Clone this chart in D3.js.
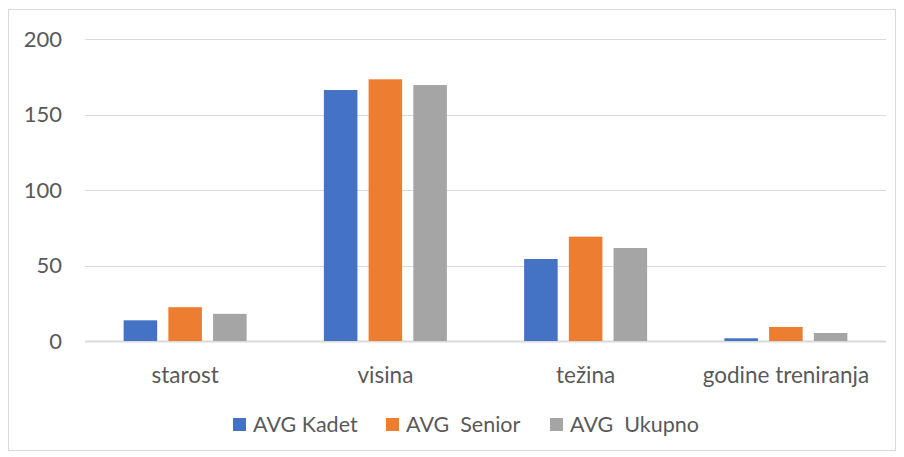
<!DOCTYPE html>
<html><head><meta charset="utf-8">
<script src="https://cdn.jsdelivr.net/npm/d3@7"></script>
<style>body{margin:0;background:#fff}svg{display:block}text{font-family:Lato,"Open Sans",sans-serif;fill:#595959;white-space:pre}</style>
</head><body>
<svg id="c" width="904" height="457"></svg>
<script>
const categories = ["starost", "visina", "težina", "godine treniranja"];
const seriesNames = ["AVG Kadet", "AVG  Senior", "AVG  Ukupno"];
const kadet = [13.7, 166.2, 54.3, 1.8];
const senior = [22.4, 173.3, 69.1, 9.3];
const ukupno = [18.0, 169.5, 61.6, 5.3];
const yTicks = [0, 50, 100, 150, 200];
const colors = ["#4472C4", "#ED7D31", "#A5A5A5"];

(function () {
const values = [kadet, senior, ukupno];
const svg = d3.select("#c");
svg.append("rect").attr("x", 8.5).attr("y", 9.5).attr("width", 887).attr("height", 441)
  .attr("fill", "#fff").attr("stroke", "#d9d9d9");

const pL = 85, pR = 886, pT = 39, pB = 341;
const y = d3.scaleLinear().domain([0, 200]).range([pB, pT]);
const x0 = d3.scaleBand().domain(categories).range([pL, pR]).paddingInner(0).paddingOuter(0);
const x1 = d3.scaleBand().domain(d3.range(3)).range([0, 123]).paddingInner(0.25);

svg.append("g").selectAll("line").data(yTicks).join("line")
  .attr("x1", pL).attr("x2", pR)
  .attr("y1", d => Math.round(y(d)) + 0.5).attr("y2", d => Math.round(y(d)) + 0.5)
  .attr("stroke", "#d9d9d9").attr("stroke-width", 1);
svg.append("line").attr("x1", pL).attr("x2", pR).attr("y1", y(0) + 0.5).attr("y2", y(0) + 0.5)
  .attr("stroke", "#d9d9d9").attr("stroke-width", 2);

svg.append("g").selectAll("text").data(yTicks).join("text")
  .attr("x", 62).attr("y", d => y(d)).attr("dy", "0.35em")
  .attr("text-anchor", "end").attr("font-size", 22).text(d => d);

const g = svg.append("g");
categories.forEach((c, ci) => {
  const cx = x0(c) + x0.bandwidth() / 2 - 61.5;
  values.forEach((arr, si) => {
    g.append("rect")
      .attr("x", cx + x1(si)).attr("width", x1.bandwidth())
      .attr("y", y(arr[ci])).attr("height", y(0) - y(arr[ci]))
      .attr("fill", colors[si]);
  });
});

svg.append("g").selectAll("text").data(categories).join("text")
  .attr("x", d => x0(d) + x0.bandwidth() / 2).attr("y", 375).attr("dy", "0.35em")
  .attr("text-anchor", "middle").attr("font-size", 22.5).text(d => d);

const leg = svg.append("g");
const legX = [233, 386, 550];
seriesNames.forEach((n, i) => {
  leg.append("rect").attr("x", legX[i]).attr("y", 418).attr("width", 13).attr("height", 13).attr("fill", colors[i]);
  leg.append("text").attr("x", legX[i] + 20).attr("y", 424.5).attr("dy", "0.35em").attr("font-size", 21.5).text(n);
});
})();
</script>
</body></html>
